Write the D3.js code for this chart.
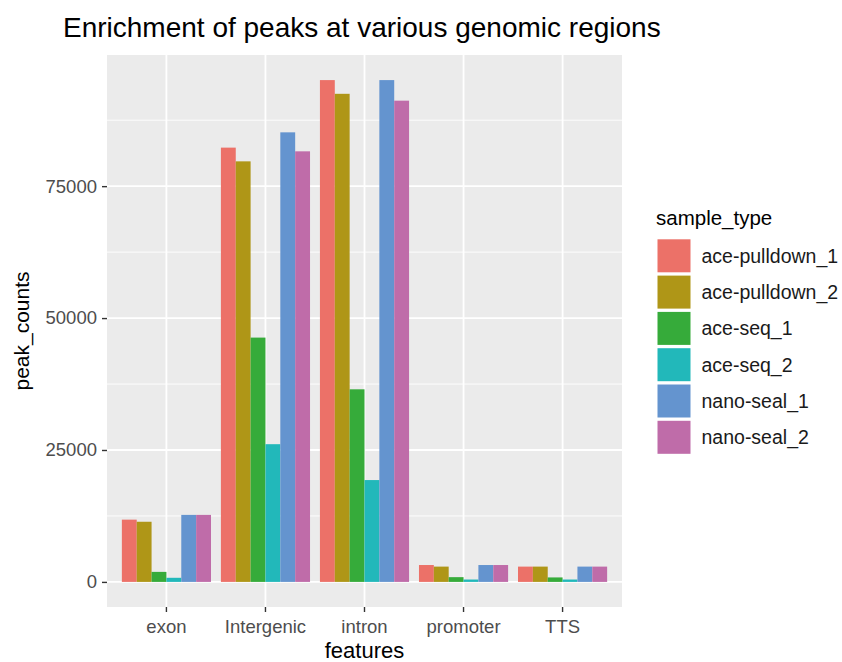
<!DOCTYPE html>
<html>
<head>
<meta charset="utf-8">
<script src="https://cdn.jsdelivr.net/npm/d3@7"></script>
<style>
  html, body { margin: 0; padding: 0; background: #fff; }
  svg { display: block; font-family: "Liberation Sans", Arial, sans-serif; }
</style>
</head>
<body>
<svg id="chart" width="842" height="662"></svg>
<script>
// ---- data ----
const features = ["exon", "Intergenic", "intron", "promoter", "TTS"];
const sampleTypes = ["ace-pulldown_1", "ace-pulldown_2", "ace-seq_1", "ace-seq_2", "nano-seal_1", "nano-seal_2"];
const acePulldown1 = [11800, 82300, 95100, 3200, 2900];
const acePulldown2 = [11400, 79700, 92500, 2900, 2900];
const aceSeq1      = [1900, 46300, 36500, 900, 850];
const aceSeq2      = [780, 26100, 19300, 450, 450];
const nanoSeal1    = [12700, 85200, 95100, 3200, 2900];
const nanoSeal2    = [12700, 81600, 91200, 3200, 2900];
const seriesValues = [acePulldown1, acePulldown2, aceSeq1, aceSeq2, nanoSeal1, nanoSeal2];
const majorTicks = [0, 25000, 50000, 75000];
const minorTicks = [12500, 37500, 62500, 87500];
const colors = ["#EC7168", "#AF9617", "#36AB3A", "#22B8BA", "#6494CF", "#BF6CA9"];

const titleText = "Enrichment of peaks at various genomic regions";
const xTitle = "features";
const yTitle = "peak_counts";
const legendTitle = "sample_type";

// ---- layout ----
const svg = d3.select("#chart");
const panel = { left: 107, right: 622, top: 55, bottom: 607 };
const FONT = "'Liberation Sans', Arial, sans-serif";

const records = [];
features.forEach((f, i) => {
  sampleTypes.forEach((s, j) => {
    records.push({ feature: f, sample: s, value: seriesValues[j][i], idx: j });
  });
});

const maxVal = d3.max(records, d => d.value);
const y = d3.scaleLinear()
  .domain([-0.05 * maxVal, 1.05 * maxVal])
  .range([panel.bottom, panel.top]);

const x = d3.scaleBand()
  .domain(features)
  .range([panel.left, panel.right])
  .paddingInner(0.1)
  .paddingOuter(0.15);

const xInner = d3.scaleBand()
  .domain(sampleTypes)
  .range([0, x.bandwidth()])
  .padding(0);

const color = d3.scaleOrdinal().domain(sampleTypes).range(colors);

// panel background
svg.append("rect")
  .attr("x", panel.left).attr("y", panel.top)
  .attr("width", panel.right - panel.left)
  .attr("height", panel.bottom - panel.top)
  .attr("fill", "#EBEBEB");

// minor gridlines
svg.append("g").selectAll("line").data(minorTicks).join("line")
  .attr("x1", panel.left).attr("x2", panel.right)
  .attr("y1", d => y(d)).attr("y2", d => y(d))
  .attr("stroke", "#fff").attr("stroke-width", 0.9);

// major gridlines
svg.append("g").selectAll("line").data(majorTicks).join("line")
  .attr("x1", panel.left).attr("x2", panel.right)
  .attr("y1", d => y(d)).attr("y2", d => y(d))
  .attr("stroke", "#fff").attr("stroke-width", 1.8);

svg.append("g").selectAll("line").data(features).join("line")
  .attr("x1", d => x(d) + x.bandwidth() / 2).attr("x2", d => x(d) + x.bandwidth() / 2)
  .attr("y1", panel.top).attr("y2", panel.bottom)
  .attr("stroke", "#fff").attr("stroke-width", 1.8);

// bars
svg.append("g").selectAll("rect").data(records).join("rect")
  .attr("x", d => x(d.feature) + xInner(d.sample))
  .attr("width", xInner.bandwidth())
  .attr("y", d => y(d.value))
  .attr("height", d => y(0) - y(d.value))
  .attr("fill", d => color(d.sample));

// y axis
const yAxis = d3.axisLeft(y).tickValues(majorTicks).tickSize(5).tickPadding(5).tickFormat(d3.format("d"));
const gy = svg.append("g").attr("transform", `translate(${panel.left},0)`).call(yAxis);
gy.select(".domain").remove();
gy.selectAll(".tick line").attr("stroke", "#333").attr("stroke-width", 1.4);
gy.selectAll(".tick text").attr("fill", "#4D4D4D").style("font-size", "18.5px")
  .style("font-family", FONT);

// x axis
const xAxis = d3.axisBottom(x).tickSize(5).tickPadding(8);
const gx = svg.append("g").attr("transform", `translate(0,${panel.bottom})`).call(xAxis);
gx.select(".domain").remove();
gx.selectAll(".tick line").attr("stroke", "#333").attr("stroke-width", 1.4);
gx.selectAll(".tick text").attr("fill", "#4D4D4D").style("font-size", "18.5px")
  .style("font-family", FONT);

// axis titles
svg.append("text")
  .attr("x", (panel.left + panel.right) / 2).attr("y", 658)
  .attr("text-anchor", "middle")
  .attr("fill", "#000").style("font-size", "22px")
  .text(xTitle);

svg.append("text")
  .attr("transform", `translate(29,${(panel.top + panel.bottom) / 2}) rotate(-90)`)
  .attr("text-anchor", "middle")
  .attr("fill", "#000").style("font-size", "21px")
  .text(yTitle);

// title
svg.append("text")
  .attr("x", 63).attr("y", 37)
  .attr("fill", "#000").style("font-size", "28px")
  .text(titleText);

// legend
const legend = svg.append("g");
legend.append("text")
  .attr("x", 656).attr("y", 225)
  .attr("fill", "#000").style("font-size", "20.5px")
  .text(legendTitle);

const keyStep = 36.3, keySize = 33, keyTop = 239.3;
const items = legend.selectAll("g.item").data(sampleTypes).join("g")
  .attr("class", "item")
  .attr("transform", (d, i) => `translate(657.5,${keyTop + i * keyStep})`);
items.append("rect")
  .attr("width", keySize).attr("height", keySize)
  .attr("fill", d => color(d));
items.append("text")
  .attr("x", 44).attr("y", keySize / 2)
  .attr("dy", "0.35em")
  .attr("fill", "#1a1a1a").style("font-size", "19.5px")
  .text(d => d);
</script>
</body>
</html>
